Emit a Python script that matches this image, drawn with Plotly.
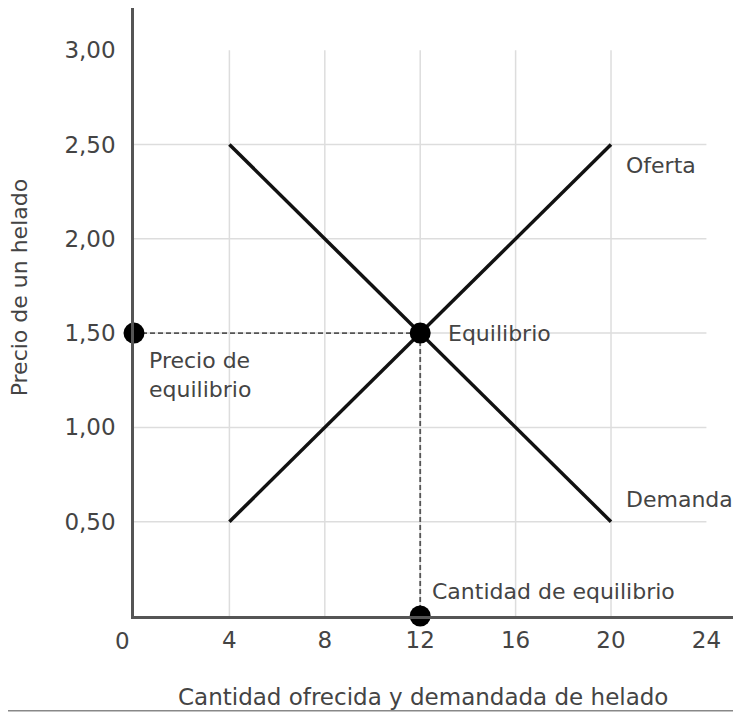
import plotly.graph_objects as go

# Data
supply_q = [4, 20]
supply_p = [0.5, 2.5]
demand_q = [4, 20]
demand_p = [2.5, 0.5]
eq_q = 12
eq_p = 1.5

x_ticks = [4, 8, 12, 16, 20, 24]
y_ticks = [0.5, 1.0, 1.5, 2.0, 2.5, 3.0]
y_tick_text = ["0,50", "1,00", "1,50", "2,00", "2,50", "3,00"]

FONT = "DejaVu Sans"
TEXT = "#444444"
GRID = "#dddddd"
AXIS = "#555555"

fig = go.Figure()

# Gridlines (vertical up to 3.00, horizontal up to 24)
for xv in x_ticks[:-1]:
    fig.add_shape(type="line", x0=xv, x1=xv, y0=0, y1=max(y_ticks),
                  line=dict(color=GRID, width=1.5), layer="below")
for yv in y_ticks[:-1]:
    fig.add_shape(type="line", x0=0, x1=max(x_ticks), y0=yv, y1=yv,
                  line=dict(color=GRID, width=1.5), layer="below")

# Dashed guides to equilibrium
dash = dict(color="#555555", width=1.8, dash="5px,3px")
fig.add_trace(go.Scatter(x=[0, eq_q], y=[eq_p, eq_p], mode="lines", line=dash,
                         hoverinfo="skip", showlegend=False))
fig.add_trace(go.Scatter(x=[eq_q, eq_q], y=[eq_p, 0], mode="lines", line=dash,
                         hoverinfo="skip", showlegend=False))

# Supply and demand
fig.add_trace(go.Scatter(x=supply_q, y=supply_p, mode="lines",
                         line=dict(color="#111111", width=3.5), showlegend=False))
fig.add_trace(go.Scatter(x=demand_q, y=demand_p, mode="lines",
                         line=dict(color="#111111", width=3.5), showlegend=False))

# Equilibrium points
fig.add_trace(go.Scatter(x=[0, eq_q, eq_q], y=[eq_p, eq_p, 0], mode="markers",
                         marker=dict(color="black", size=21), cliponaxis=False,
                         showlegend=False))

labels = [
    (20.55, 2.39, "Oferta"),
    (20.55, 0.62, "Demanda"),
    (13.1, 1.5, "Equilibrio"),
    (0.55, 1.28, "Precio de<br>equilibrio"),
    (12.4, 0.13, "Cantidad de equilibrio"),
]
for lx, ly, txt in labels:
    fig.add_annotation(x=lx, y=ly, text=txt, showarrow=False, xanchor="left",
                       align="left", font=dict(family=FONT, size=22, color=TEXT))

# "0" tick label sits slightly left of the axis
fig.add_annotation(x=0, y=0, xshift=-12, yshift=-25, text="0", showarrow=False,
                   font=dict(family=FONT, size=23, color=TEXT))

# Axis titles
fig.add_annotation(xref="paper", yref="paper", x=0.476, y=-0.133,
                   xanchor="center", yanchor="middle",
                   text="Cantidad ofrecida y demandada de helado", showarrow=False,
                   font=dict(family=FONT, size=23, color=TEXT))
fig.add_annotation(xref="paper", yref="paper", x=-0.189, y=0.541,
                   xanchor="center", yanchor="middle",
                   text="Precio de un helado", textangle=-90, showarrow=False,
                   font=dict(family=FONT, size=22, color=TEXT))

# Picture frame remnant along the bottom
fig.add_shape(type="line", xref="paper", yref="paper", x0=-0.25, x1=1,
              y0=-0.156, y1=-0.156, line=dict(color="#888888", width=1.5))

fig.update_xaxes(range=[0, 25.45], tickvals=x_ticks, showgrid=False, zeroline=False,
                 showline=True, linecolor=AXIS, linewidth=2.5, ticks="",
                 ticklabelstandoff=2, automargin=False,
                 tickfont=dict(family=FONT, size=23, color=TEXT))
fig.update_yaxes(range=[0, 3.224], tickvals=y_ticks, ticktext=y_tick_text,
                 showgrid=False, zeroline=False, showline=True, linecolor=AXIS,
                 linewidth=2.5, ticks="", ticklabelstandoff=11, automargin=False,
                 tickfont=dict(family=FONT, size=23, color=TEXT))

# The page body adds an 8px offset, so the figure is sized to fit the window.
fig.update_layout(
    width=733, height=705,
    margin=dict(l=126, r=0, t=0, b=97, autoexpand=False),
    plot_bgcolor="white", paper_bgcolor="white",
    showlegend=False,
)

fig.write_html("out.html")
